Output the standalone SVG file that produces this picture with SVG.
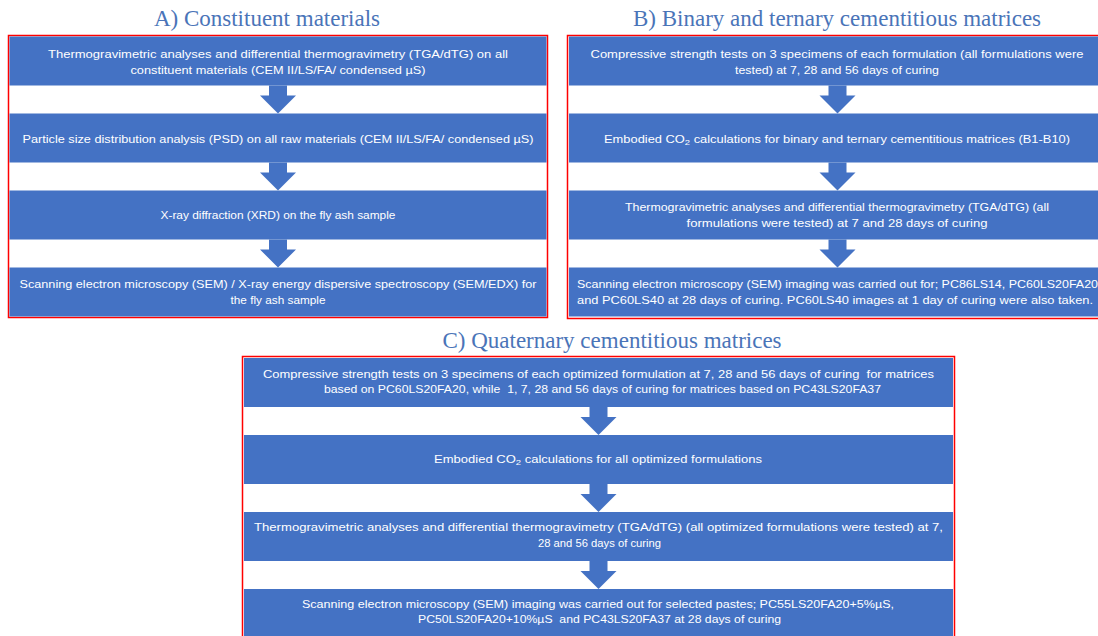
<svg xmlns="http://www.w3.org/2000/svg" width="1098" height="636" viewBox="0 0 1098 636">
<defs>
<style>
.title{font-family:"Liberation Serif","Times New Roman",serif;font-size:23px;fill:#4A74B8;text-anchor:middle}
.frame{fill:none;stroke:#FF0000;stroke-width:1.5}
.box{fill:#4472C4}
.t{font-family:"Liberation Sans",Arial,sans-serif;font-size:11px;fill:#FFFFFF;text-anchor:middle;white-space:pre}
.sub{font-size:8px}
.arrow{fill:#4472C4}
</style>
<path id="arr" d="M-9,0 H9 V10 H18 L0,28 L-18,10 H-9 Z"/>
</defs>
<rect width="1098" height="636" fill="#FFFFFF"/>

<text class="title" x="267" y="26">A) Constituent materials</text>
<text class="title" x="837" y="26">B) Binary and ternary cementitious matrices</text>
<text class="title" x="612" y="348">C) Quaternary cementitious matrices</text>

<rect class="frame" x="8.5" y="35.5" width="539" height="282"/>
<rect class="frame" x="567.5" y="35.5" width="545" height="283"/>
<rect class="frame" x="242.5" y="356.5" width="712" height="290"/>

<g id="a1"><rect class="box" x="9.5" y="36.5" width="537" height="49"/>
<text class="t" x="278" y="58" textLength="460" lengthAdjust="spacingAndGlyphs">Thermogravimetric analyses and differential thermogravimetry (TGA/dTG) on all</text>
<text class="t" x="278" y="74" textLength="295" lengthAdjust="spacingAndGlyphs">constituent materials (CEM II/LS/FA/ condensed µS)</text></g>
<g id="a2"><rect class="box" x="9.5" y="113.5" width="537" height="49"/>
<text class="t" x="278" y="143" textLength="511" lengthAdjust="spacingAndGlyphs">Particle size distribution analysis (PSD) on all raw materials (CEM II/LS/FA/ condensed µS)</text></g>
<g id="a3"><rect class="box" x="9.5" y="190.5" width="537" height="49"/>
<text class="t" x="278" y="219" textLength="235" lengthAdjust="spacingAndGlyphs">X-ray diffraction (XRD) on the fly ash sample</text></g>
<g id="a4"><rect class="box" x="9.5" y="267.5" width="537" height="49"/>
<text class="t" x="278" y="288" textLength="517" lengthAdjust="spacingAndGlyphs">Scanning electron microscopy (SEM) / X-ray energy dispersive spectroscopy (SEM/EDX) for</text>
<text class="t" x="278" y="304" textLength="95" lengthAdjust="spacingAndGlyphs">the fly ash sample</text></g>

<g id="b1"><rect class="box" x="569" y="36.5" width="537" height="49"/>
<text class="t" x="837" y="58" textLength="493" lengthAdjust="spacingAndGlyphs">Compressive strength tests on 3 specimens of each formulation (all formulations were</text>
<text class="t" x="837" y="74" textLength="204" lengthAdjust="spacingAndGlyphs">tested) at 7, 28 and 56 days of curing</text></g>
<g id="b2"><rect class="box" x="569" y="113.5" width="537" height="49"/>
<text class="t" x="837" y="143" textLength="466" lengthAdjust="spacingAndGlyphs">Embodied CO<tspan class="sub" dy="2">2</tspan><tspan dy="-2"> calculations for binary and ternary cementitious matrices (B1-B10)</tspan></text></g>
<g id="b3"><rect class="box" x="569" y="190.5" width="537" height="49"/>
<text class="t" x="837" y="211" textLength="424" lengthAdjust="spacingAndGlyphs">Thermogravimetric analyses and differential thermogravimetry (TGA/dTG) (all</text>
<text class="t" x="837" y="227" textLength="301" lengthAdjust="spacingAndGlyphs">formulations were tested) at 7 and 28 days of curing</text></g>
<g id="b4"><rect class="box" x="569" y="267.5" width="537" height="49"/>
<text class="t" x="837.5" y="288" textLength="521" lengthAdjust="spacingAndGlyphs">Scanning electron microscopy (SEM) imaging was carried out for; PC86LS14, PC60LS20FA20</text>
<text class="t" x="835" y="304" textLength="516" lengthAdjust="spacingAndGlyphs">and PC60LS40 at 28 days of curing. PC60LS40 images at 1 day of curing were also taken.</text></g>

<g id="c1"><rect class="box" x="244" y="358" width="709" height="49"/>
<text class="t" x="598.5" y="378" textLength="671" lengthAdjust="spacingAndGlyphs">Compressive strength tests on 3 specimens of each optimized formulation at 7, 28 and 56 days of curing  for matrices</text>
<text class="t" x="602.5" y="393" textLength="557" lengthAdjust="spacingAndGlyphs">based on PC60LS20FA20, while  1, 7, 28 and 56 days of curing for matrices based on PC43LS20FA37</text></g>
<g id="c2"><rect class="box" x="244" y="435" width="709" height="49"/>
<text class="t" x="598" y="463" textLength="328" lengthAdjust="spacingAndGlyphs">Embodied CO<tspan class="sub" dy="2">2</tspan><tspan dy="-2"> calculations for all optimized formulations</tspan></text></g>
<g id="c3"><rect class="box" x="244" y="512" width="709" height="49"/>
<text class="t" x="598.5" y="531" textLength="689" lengthAdjust="spacingAndGlyphs">Thermogravimetric analyses and differential thermogravimetry (TGA/dTG) (all optimized formulations were tested) at 7,</text>
<text class="t" x="599.5" y="547" textLength="123" lengthAdjust="spacingAndGlyphs">28 and 56 days of curing</text></g>
<g id="c4"><rect class="box" x="244" y="589" width="709" height="49"/>
<text class="t" x="598" y="608" textLength="592" lengthAdjust="spacingAndGlyphs">Scanning electron microscopy (SEM) imaging was carried out for selected pastes; PC55LS20FA20+5%µS,</text>
<text class="t" x="599.5" y="623" textLength="363" lengthAdjust="spacingAndGlyphs">PC50LS20FA20+10%µS  and PC43LS20FA37 at 28 days of curing</text></g>

<g id="connectors" class="arrow">
<use href="#arr" x="278" y="85.5"/>
<use href="#arr" x="278" y="162.5"/>
<use href="#arr" x="278" y="239.5"/>
<use href="#arr" x="837.5" y="85.5"/>
<use href="#arr" x="837.5" y="162.5"/>
<use href="#arr" x="837.5" y="239.5"/>
<use href="#arr" x="598.5" y="407"/>
<use href="#arr" x="598.5" y="484"/>
<use href="#arr" x="598.5" y="561"/>
</g>
</svg>
